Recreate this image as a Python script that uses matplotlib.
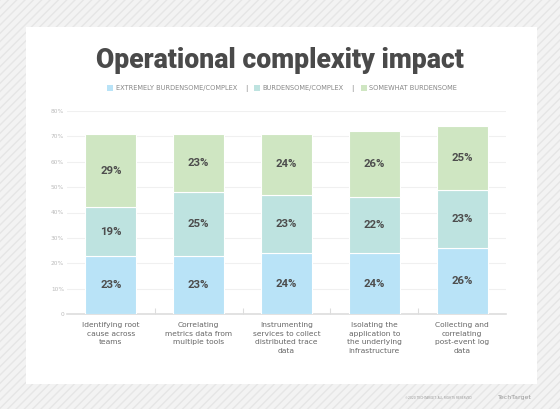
import matplotlib
matplotlib.use("Agg")
import matplotlib.pyplot as plt
from matplotlib.patches import Rectangle
import numpy as np

categories = [
    "Identifying root\ncause across\nteams",
    "Correlating\nmetrics data from\nmultiple tools",
    "Instrumenting\nservices to collect\ndistributed trace\ndata",
    "Isolating the\napplication to\nthe underlying\ninfrastructure",
    "Collecting and\ncorrelating\npost-event log\ndata",
]
extremely = [23, 23, 24, 24, 26]
burdensome = [19, 25, 23, 22, 23]
somewhat = [29, 23, 24, 26, 25]
series_names = ["EXTREMELY BURDENSOME/COMPLEX", "BURDENSOME/COMPLEX", "SOMEWHAT BURDENSOME"]
yticks = [0, 10, 20, 30, 40, 50, 60, 70, 80]
ytick_labels = ["0", "10%", "20%", "30%", "40%", "50%", "60%", "70%", "80%"]

colors = ["#b9e3f7", "#bee3e0", "#cfe6c2"]
W, H = 560, 409
fig = plt.figure(figsize=(W / 100, H / 100), dpi=100)
fig.patch.set_facecolor("#f3f3f3")

# hatched background
bg = Rectangle((0, 0), 1, 1, transform=fig.transFigure, facecolor="#f3f3f3",
               edgecolor="#e6e6e6", hatch="////", linewidth=0, zorder=-10)
fig.patches.append(bg)
# white panel
px0, py0, px1, py1 = 26, 27, 537, 384
panel = Rectangle((px0 / W, 1 - py1 / H), (px1 - px0) / W, (py1 - py0) / H,
                  transform=fig.transFigure, facecolor="white", edgecolor="none", zorder=-5)
fig.patches.append(panel)

ax_l, ax_r, ax_t, ax_b = 67, 506, 111, 314
ax = fig.add_axes([ax_l / W, 1 - ax_b / H, (ax_r - ax_l) / W, (ax_b - ax_t) / H])
ax.set_facecolor("none")
x = np.arange(len(categories))
bw = 51 / 88
series = [extremely, burdensome, somewhat]
bottom = np.zeros(len(categories))
for vals, c in zip(series, colors):
    vals = np.array(vals, dtype=float)
    ax.bar(x, vals, bw, bottom=bottom, color=c, edgecolor="white", linewidth=0.8, zorder=3)
    for xi, b, v in zip(x, bottom, vals):
        ax.text(xi, b + v / 2, f"{int(v)}%", ha="center", va="center", fontsize=8.2,
                fontweight="bold", color="#4d4d4d", family="Roboto", zorder=4)
    bottom += vals

ax.set_xlim(-0.5, len(categories) - 0.5)
ax.set_ylim(0, 80)
ax.set_yticks(yticks)
ax.set_yticklabels(ytick_labels, fontsize=4.2, color="#bbbbbb", family="DejaVu Sans")
ax.yaxis.grid(True, color="#f0f0f0", linewidth=0.8, zorder=0)
ax.tick_params(axis="y", length=0, pad=2)
ax.set_xticks(x)
ax.set_xticklabels(categories, fontsize=5.4, color="#666666", linespacing=1.5,
                   family="DejaVu Sans")
ax.tick_params(axis="x", length=0, pad=6)
ax.set_xticks(np.arange(0.5, len(categories) - 0.5, 1), minor=True)
ax.tick_params(axis="x", which="minor", length=4, color="#dddddd", direction="in", width=0.8)
for s in ["top", "right", "left"]:
    ax.spines[s].set_visible(False)
ax.spines["bottom"].set_color("#dddddd")
ax.spines["bottom"].set_linewidth(1.2)

# title
fig.text(0.5, 1 - 60 / H, "Operational complexity impact", ha="center", va="center",
         fontsize=19.2, fontweight="heavy", color="#4a4a4a", family="Roboto")

# legend
leg_y = 1 - 88 / H
sq_x = [107, 254, 361]
txt_x = [116, 262, 369]
for sx, tx, name, c in zip(sq_x, txt_x, series_names, colors):
    fig.patches.append(Rectangle((sx / W, leg_y - 3 / H), 6 / W, 6 / H,
                                 transform=fig.transFigure, facecolor=c, edgecolor="none"))
    fig.text(tx / W, leg_y, name, ha="left", va="center", fontsize=4.8, color="#888888",
             family="DejaVu Sans")
for sepx in [246, 352]:
    fig.text(sepx / W, leg_y, "|", ha="center", va="center", fontsize=5, color="#888888",
             family="DejaVu Sans")

# footer
fig.text(472 / W, 1 - 398 / H, "©2020 TECHTARGET. ALL RIGHTS RESERVED", ha="right", va="center",
         fontsize=2.2, color="#999999", family="DejaVu Sans")
fig.text(532 / W, 1 - 398 / H, "TechTarget", ha="right", va="center", fontsize=4.5,
         color="#999999", family="DejaVu Sans")

fig.savefig("out.png", dpi=100)
